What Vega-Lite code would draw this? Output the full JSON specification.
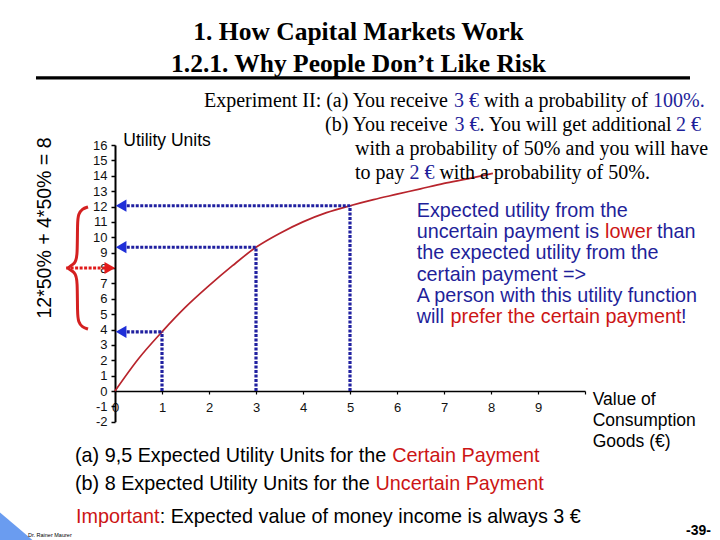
{
  "$schema": "https://vega.github.io/schema/vega-lite/v6.json",
  "width": 470,
  "height": 276.75,
  "autosize": {"type": "none"},
  "padding": {"left": 115, "top": 145, "right": 135, "bottom": 118.25},
  "background": "white",
  "config": {"view": {"stroke": null}, "font": "Liberation Sans"},
  "datasets": {
    "curve": [
      {"x": 0, "y": 0}, {"x": 0.5, "y": 2.1}, {"x": 1, "y": 3.85}, {"x": 1.5, "y": 5.45},
      {"x": 2, "y": 6.85}, {"x": 2.5, "y": 8.15}, {"x": 3, "y": 9.35}, {"x": 3.5, "y": 10.25},
      {"x": 4, "y": 11.0}, {"x": 4.5, "y": 11.6}, {"x": 5, "y": 12.05}, {"x": 5.5, "y": 12.45},
      {"x": 6, "y": 12.8}, {"x": 6.5, "y": 13.15}, {"x": 7, "y": 13.5}, {"x": 7.5, "y": 13.8},
      {"x": 8.04, "y": 14.15}
    ],
    "guides": [
      {"x": 0.25, "x2": 1, "y": 3.85, "y2": 3.85},
      {"x": 1, "x2": 1, "y": 0, "y2": 3.85},
      {"x": 0.25, "x2": 3, "y": 9.35, "y2": 9.35},
      {"x": 3, "x2": 3, "y": 0, "y2": 9.35},
      {"x": 0.25, "x2": 5, "y": 12.05, "y2": 12.05},
      {"x": 5, "x2": 5, "y": 0, "y2": 12.05}
    ],
    "heads": [{"x": 0.13, "y": 3.85}, {"x": 0.13, "y": 9.35}, {"x": 0.13, "y": 12.05}],
    "brace": [
      {"i": 0, "x": -0.574, "y": 11.97}, {"i": 1, "x": -0.7, "y": 11.85}, {"i": 2, "x": -0.78, "y": 11.5},
      {"i": 3, "x": -0.8, "y": 11.0}, {"i": 4, "x": -0.8, "y": 8.8}, {"i": 5, "x": -0.84, "y": 8.25},
      {"i": 6, "x": -1.07, "y": 8.0}, {"i": 7, "x": -0.84, "y": 7.75}, {"i": 8, "x": -0.8, "y": 7.2},
      {"i": 9, "x": -0.8, "y": 5.0}, {"i": 10, "x": -0.78, "y": 4.5}, {"i": 11, "x": -0.7, "y": 4.15},
      {"i": 12, "x": -0.574, "y": 4.03}
    ],
    "serif": [
      {"x": 1.894, "y": 18.47, "t": "Experiment II: (a) You receive", "c": "k"},
      {"x": 7.213, "y": 18.47, "t": "3 €", "c": "b"},
      {"x": 7.851, "y": 18.47, "t": "with a probability of", "c": "k"},
      {"x": 11.447, "y": 18.47, "t": "100%.", "c": "b"},
      {"x": 4.468, "y": 16.91, "t": "(b) You receive", "c": "k"},
      {"x": 7.221, "y": 16.91, "t": "3 €", "c": "b"},
      {"x": 7.753, "y": 16.91, "t": ". You will get additional", "c": "k"},
      {"x": 11.936, "y": 16.91, "t": "2 €", "c": "b"},
      {"x": 5.106, "y": 15.38, "t": "with a probability of 50% and you will have", "c": "k"},
      {"x": 5.106, "y": 13.82, "t": "to pay", "c": "k"},
      {"x": 6.266, "y": 13.82, "t": "2 €", "c": "b"},
      {"x": 6.902, "y": 13.82, "t": "with a probability of 50%.", "c": "k"}
    ],
    "para": [
      {"x": 6.419, "y": 11.34, "t": "Expected utility from the", "c": "b"},
      {"x": 6.419, "y": 9.95, "t": "uncertain payment is", "c": "b"},
      {"x": 10.426, "y": 9.95, "t": "lower", "c": "r"},
      {"x": 11.532, "y": 9.95, "t": "than", "c": "b"},
      {"x": 6.419, "y": 8.57, "t": "the expected utility from the", "c": "b"},
      {"x": 6.419, "y": 7.18, "t": "certain payment =>", "c": "b"},
      {"x": 6.419, "y": 5.79, "t": "A person with this utility function", "c": "b"},
      {"x": 6.419, "y": 4.4, "t": "will", "c": "b"},
      {"x": 7.14, "y": 4.4, "t": "prefer the certain payment", "c": "r"},
      {"x": 12.04, "y": 4.4, "t": "!", "c": "b"},
      {"x": -0.851, "y": -4.6, "t": "(a) 9,5 Expected Utility Units for the", "c": "k"},
      {"x": 5.898, "y": -4.6, "t": "Certain Payment", "c": "r"},
      {"x": -0.851, "y": -6.44, "t": "(b) 8 Expected Utility Units for the", "c": "k"},
      {"x": 5.543, "y": -6.44, "t": "Uncertain Payment", "c": "r"},
      {"x": -0.83, "y": -8.6, "t": "Important", "c": "r"},
      {"x": 0.95, "y": -8.6, "t": ": Expected value of money income is always 3 €", "c": "k"}
    ],
    "labels": [
      {"x": 0.177, "y": 15.93, "t": "Utility Units"},
      {"x": 10.164, "y": -0.91, "t": "Value of"},
      {"x": 10.164, "y": -2.28, "t": "Consumption"},
      {"x": 10.164, "y": -3.62, "t": "Goods (€)"}
    ]
  },
  "encoding": {
    "x": {
      "field": "x", "type": "quantitative",
      "scale": {"domain": [0, 10], "nice": false, "zero": false},
      "axis": {
        "title": null, "values": [0, 1, 2, 3, 4, 5, 6, 7, 8, 9, 10],
        "labelExpr": "datum.value == 10 ? '' : datum.label",
        "offset": -30.75, "grid": false,
        "domainColor": "#000", "domainWidth": 1.3,
        "tickColor": "#000", "tickSize": 3, "tickWidth": 1.2,
        "labelFont": "Liberation Sans", "labelFontSize": 13, "labelColor": "#111",
        "labelPadding": 7, "labelFlush": false, "labelOverlap": false
      }
    },
    "y": {
      "field": "y", "type": "quantitative",
      "scale": {"domain": [-2, 16], "nice": false, "zero": false},
      "axis": {
        "title": null,
        "values": [-2, -1, 0, 1, 2, 3, 4, 5, 6, 7, 8, 9, 10, 11, 12, 13, 14, 15, 16],
        "labelExpr": "replace(datum.label, '−', '-')",
        "grid": false,
        "domainColor": "#000", "domainWidth": 2,
        "tickColor": "#000", "tickSize": 4, "tickWidth": 1.5,
        "labelFont": "Liberation Sans", "labelFontSize": 13, "labelColor": "#111",
        "labelPadding": 4, "labelOverlap": false
      }
    }
  },
  "layer": [
    {
      "data": {"name": "curve"},
      "mark": {"type": "line", "color": "#b8242c", "strokeWidth": 1.7, "interpolate": "monotone"}
    },
    {
      "data": {"name": "guides"},
      "mark": {"type": "rule", "color": "#2020a0", "strokeWidth": 3.2, "strokeDash": [3, 1.5]},
      "encoding": {"x2": {"field": "x2"}, "y2": {"field": "y2"}}
    },
    {
      "data": {"name": "heads"},
      "mark": {"type": "point", "shape": "triangle-left", "filled": true, "size": 150, "color": "#1f2fd8", "opacity": 1}
    },
    {
      "data": {"values": [{"x": -1.04, "x2": -0.2, "y": 8}]},
      "mark": {"type": "rule", "color": "#e01a1a", "strokeWidth": 3.2, "strokeDash": [3, 1.5]},
      "encoding": {"x2": {"field": "x2"}}
    },
    {
      "data": {"values": [{"x": -0.11, "y": 8}]},
      "mark": {"type": "point", "shape": "triangle-right", "filled": true, "size": 150, "color": "#e41b1b", "opacity": 1}
    },
    {
      "data": {"name": "brace"},
      "mark": {"type": "line", "color": "#d42020", "strokeWidth": 3, "interpolate": "basis"},
      "encoding": {"order": {"field": "i", "type": "quantitative"}}
    },
    {
      "data": {"values": [{"x": -1.681, "x2": 12.234, "y": 20.36}]},
      "mark": {"type": "rule", "color": "#000", "strokeWidth": 3.3},
      "encoding": {"x2": {"field": "x2"}}
    },
    {
      "data": {"values": [{"x": -2.47, "y": -7.85, "y2": -9.72}, {"x": -1.745, "y": -9.72, "y2": -9.72}]},
      "mark": {"type": "area", "color": "#6a9cf0", "opacity": 1},
      "encoding": {"y2": {"field": "y2"}}
    },
    {
      "data": {"values": [
        {"x": 5.181, "y": 22.8, "t": "1. How Capital Markets Work"},
        {"x": 5.181, "y": 20.78, "t": "1.2.1. Why People Don’t Like Risk"}
      ]},
      "mark": {"type": "text", "align": "center", "baseline": "alphabetic", "font": "Liberation Serif", "fontWeight": "bold", "fontSize": 25.5, "color": "#000"},
      "encoding": {"text": {"field": "t"}}
    },
    {
      "data": {"name": "serif"},
      "mark": {"type": "text", "align": "left", "baseline": "alphabetic", "font": "Liberation Serif", "fontSize": 20},
      "encoding": {
        "text": {"field": "t"},
        "color": {"field": "c", "type": "nominal", "scale": {"domain": ["k", "b", "r"], "range": ["#000000", "#1f1f9a", "#cc1515"]}, "legend": null}
      }
    },
    {
      "data": {"name": "para"},
      "mark": {"type": "text", "align": "left", "baseline": "alphabetic", "font": "Liberation Sans", "fontSize": 19.8},
      "encoding": {
        "text": {"field": "t"},
        "color": {"field": "c", "type": "nominal", "scale": {"domain": ["k", "b", "r"], "range": ["#000000", "#1f1f9a", "#cc1515"]}, "legend": null}
      }
    },
    {
      "data": {"name": "labels"},
      "mark": {"type": "text", "align": "left", "baseline": "alphabetic", "font": "Liberation Sans", "fontSize": 17.5, "color": "#000"},
      "encoding": {"text": {"field": "t"}}
    },
    {
      "data": {"values": [{"x": -1.489, "y": 10.6, "t": "12*50% + 4*50% = 8"}]},
      "mark": {"type": "text", "align": "center", "baseline": "middle", "angle": 270, "font": "Liberation Sans", "fontSize": 19.5, "color": "#000"},
      "encoding": {"text": {"field": "t"}}
    },
    {
      "data": {"values": [{"x": -1.851, "y": -9.5, "t": "Dr. Rainer Maurer"}]},
      "mark": {"type": "text", "align": "left", "baseline": "alphabetic", "font": "Liberation Sans", "fontSize": 5.5, "color": "#000"},
      "encoding": {"text": {"field": "t"}}
    },
    {
      "data": {"values": [{"x": 12.415, "y": -9.37, "t": "-39-"}]},
      "mark": {"type": "text", "align": "center", "baseline": "alphabetic", "font": "Liberation Sans", "fontWeight": "bold", "fontSize": 14, "color": "#000"},
      "encoding": {"text": {"field": "t"}}
    }
  ]
}
